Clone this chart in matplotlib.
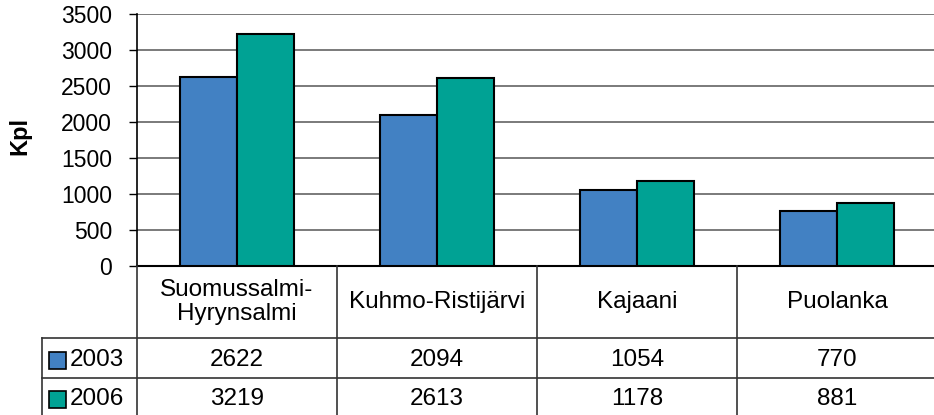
import matplotlib
matplotlib.use("Agg")
import matplotlib.pyplot as plt
import numpy as np

categories = ["Suomussalmi-\nHyrynsalmi", "Kuhmo-Ristijärvi", "Kajaani", "Puolanka"]
series_names = ["2003", "2006"]
values_2003 = [2622, 2094, 1054, 770]
values_2006 = [3219, 2613, 1178, 881]
colors = ["#4281C3", "#00A294"]
yticks = [0, 500, 1000, 1500, 2000, 2500, 3000, 3500]

plt.rcParams["font.family"] = ["Liberation Sans", "DejaVu Sans"]

W, H = 934, 415
fig = plt.figure(figsize=(W / 100, H / 100), dpi=100)

# pixel geometry
x0, x1 = 137, 937
ytop, ybot = 14, 266
ax = fig.add_axes([x0 / W, 1 - ybot / H, (x1 - x0) / W, (ybot - ytop) / H])

n = len(categories)
pos = np.arange(n) + 0.5
bw = 0.287
ax.bar(pos - bw / 2, values_2003, bw, color=colors[0], edgecolor="black", linewidth=1.5, zorder=3)
ax.bar(pos + bw / 2, values_2006, bw, color=colors[1], edgecolor="black", linewidth=1.5, zorder=3)
ax.set_xlim(0, n)
ax.set_ylim(0, 3500)
ax.set_yticks(yticks)
ax.set_yticklabels([str(v) for v in yticks], fontsize=16.5)
ax.tick_params(axis="y", length=6, width=1, pad=12, direction="out")
ax.set_xticks([])
ax.yaxis.grid(True, color="#707070", linewidth=1.3, zorder=0)
ax.set_axisbelow(True)
for s in ["top", "right"]:
    ax.spines[s].set_visible(False)
ax.spines["left"].set_linewidth(1.2)
ax.spines["bottom"].set_linewidth(1.5)
ax.set_ylabel("Kpl", fontsize=17, fontweight="bold")
ax.yaxis.set_label_coords((31 - x0) / (x1 - x0), (ybot - 136) / (ybot - ytop))

# data table
tx0 = 42
cat_px = (x1 - x0) / n
tab = fig.add_axes([tx0 / W, 0, (x1 - tx0) / W, (H - ybot) / H])
tab.set_xlim(-(x0 - tx0) / cat_px, n)
tab.set_ylim(H, ybot)
tab.axis("off")

lc = "#333333"
row1, row2 = 338, 378
for i in range(n):
    tab.plot([i, i], [ybot, H], color=lc, lw=1.2, clip_on=False)
xl = -(x0 - tx0) / cat_px
tab.plot([xl, xl], [row1, H], color=lc, lw=1.2, clip_on=False)
for yy in (row1, row2):
    tab.plot([xl, n], [yy, yy], color=lc, lw=1.2, clip_on=False)

fs = 17.5
for i, c in enumerate(categories):
    tab.text(i + 0.5, 302, c, ha="center", va="center", fontsize=fs, linespacing=1.15)
for r, (vals, yy) in enumerate([(values_2003, 360), (values_2006, 399)]):
    for i, v in enumerate(vals):
        tab.text(i + 0.5, yy, str(v), ha="center", va="center", fontsize=fs)
    kx = (49 - x0) / cat_px
    kw = 17 / cat_px
    tab.add_patch(plt.Rectangle((kx, yy - 8.5), kw, 17, facecolor=colors[r],
                                edgecolor="black", lw=1.2, clip_on=False))
    tab.text((70 - x0) / cat_px, yy, series_names[r], ha="left", va="center", fontsize=fs)

fig.savefig("out.png", dpi=100)
